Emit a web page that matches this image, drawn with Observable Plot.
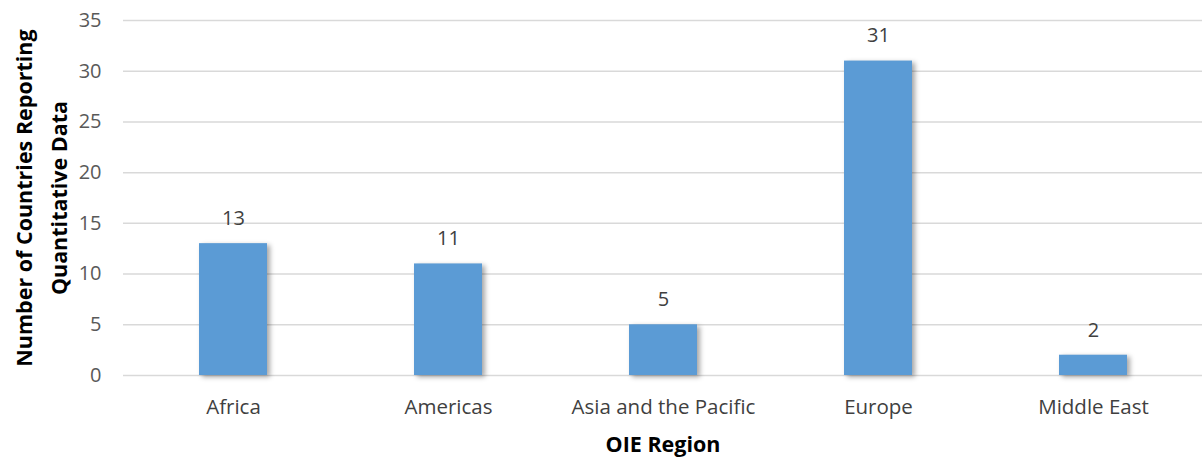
<!DOCTYPE html>
<html>
<head>
<meta charset="utf-8">
<script src="https://cdn.jsdelivr.net/npm/d3@7"></script>
<script src="https://cdn.jsdelivr.net/npm/@observablehq/plot@0.6"></script>
<style>
  html, body { margin: 0; padding: 0; background: #fff; }
  #chart svg { display: block; font-family: "Open Sans", Lato, sans-serif; }
  .bars rect { filter: drop-shadow(3px 2px 2.5px rgba(0,0,0,0.35)); }
</style>
</head>
<body>
<div id="chart"></div>
<script>
const regions = ["Africa", "Americas", "Asia and the Pacific", "Europe", "Middle East"];
const countries = [13, 11, 5, 31, 2];
const yTicks = [0, 5, 10, 15, 20, 25, 30, 35];
const yTitle = "Number of Countries Reporting\nQuantitative Data";
const xTitle = "OIE Region";

const data = regions.map((region, i) => ({region, value: countries[i]}));

const chart = Plot.plot({
  width: 1202,
  height: 459,
  marginLeft: 123,
  marginRight: 0,
  marginTop: 20,
  marginBottom: 84,
  style: {fontSize: "20px", color: "#595959"},
  x: {domain: regions, paddingInner: 0.685, paddingOuter: 0.3425, align: 0.5},
  y: {domain: [0, 35]},
  marks: [
    Plot.gridY(yTicks, {stroke: "#d9d9d9", strokeOpacity: 1, strokeWidth: 1.5}),
    Plot.barY(data, {x: "region", y: "value", fill: "#5b9bd5", className: "bars"}),
    Plot.text(data, {x: "region", y: "value", text: d => String(d.value), dy: -25, fill: "#404040", fontSize: 20}),
    Plot.axisY({ticks: yTicks, tickSize: 0, tickPadding: 22, label: null, fill: "#595959", fontSize: 20}),
    Plot.axisX({tickSize: 0, tickPadding: 24, label: null, fill: "#404040", fontSize: 20.5}),
    Plot.text([xTitle], {frameAnchor: "bottom", dy: 70, text: d => d, fontWeight: "bold", fontSize: 21.5, fill: "#000", lineAnchor: "middle", textAnchor: "middle"}),
    Plot.text([yTitle], {frameAnchor: "left", dx: -85.5, text: d => d, rotate: -90, fontWeight: "bold", fontSize: 21.5, fill: "#000", lineAnchor: "middle", textAnchor: "middle", lineHeight: 1.63})
  ]
});

document.getElementById("chart").appendChild(chart);
</script>
</body>
</html>
